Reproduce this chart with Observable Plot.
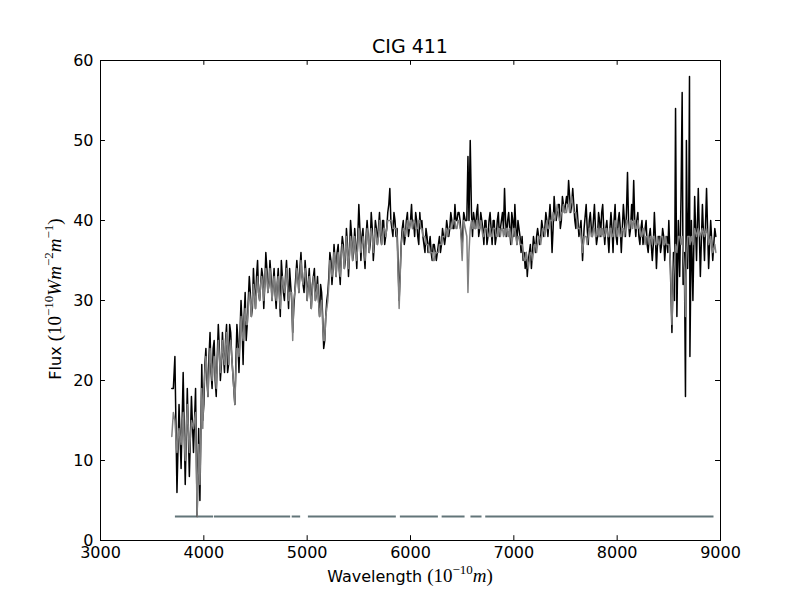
<!DOCTYPE html>
<html><head><meta charset="utf-8">
<script src="https://cdn.jsdelivr.net/npm/d3@7"></script>
<script src="https://cdn.jsdelivr.net/npm/@observablehq/plot@0.6"></script>
<style>body{margin:0;background:#fff} svg{display:block}</style>
</head><body><div id="chart"></div>
<script>
// ---- data ----
const wavelength = [
 3690,3705,3720,3740,3760,3780,3800,3820,3840,3860,3880,3900,3920,3935,3950,3962,3980,
 4000,4020,4040,4060,4080,4100,4120,4140,4160,4180,4200,4220,4240,4260,4280,
 4300,4320,4340,4360,4380,4400,4420,4440,4460,4480,4500,4520,4540,4560,4580,
 4600,4620,4640,4660,4680,4700,4720,4740,4760,4780,4800,4820,4840,4860,4880,
 4900,4920,4940,4960,4980,5000,5020,5040,5060,5080,5100,5120,5140,5160,5180,
 5200,5220,5240,5260,5280,5300,5320,5340,5360,5380,5400,5420,5440,5460,5480,
 5500,5520,5540,5560,5580,5600,5620,5640,5660,5680,5700,5720,5740,5760,5780,
 5800,5820,5840,5860,5890,5910,5930,5950,5970,5990,6010,6030,6050,6070,6090,
 6110,6130,6150,6170,6190,6210,6230,6250,6270,6290,6310,6330,6350,6370,6390,
 6410,6430,6450,6470,6485,6500,6515,6530,6545,6556,6566,6578,6590,6610,6630,
 6650,6670,6690,6710,6730,6750,6770,6790,6810,6830,6850,6870,6890,6910,6930,
 6950,6970,6990,7010,7030,7050,7070,7090,7110,7130,7150,7170,7190,7210,7230,
 7250,7270,7290,7310,7330,7350,7370,7390,7410,7430,7450,7470,7490,7510,7530,
 7550,7570,7590,7610,7630,7650,7665,7680,7700,7720,7740,7760,7780,7800,7820,
 7840,7860,7880,7900,7920,7940,7960,7980,8000,8020,8040,8060,8080,8100,8120,
 8140,8160,8180,8200,8220,8240,8260,8280,8300,8320,8340,8360,8380,8400,8420,
 8440,8460,8480,8500,8515,8530,8545,8555,8565,8578,8592,8605,8618,8629,8638,
 8650,8661,8670,8682,8693,8700,8704,8718,8733,8750,8768,8785,8805,8825,8845,
 8865,8885,8905,8925,8945,8955
];
const observedFlux = [
 19,19,23,6,17,9,21,7,19,8,18,11,19,3,14,5,22,
 17,24,18,26,19,25,18,27,20,26,21,27,22,26,21,
 17,27,21,30,22,31,27,33,28,34,29,35,30,34,29,
 36,31,35,30,34,29,34,28,33,30,35,29,32,26,31,
 35,31,36,32,35,30,34,29,33,30,33,28,31,24,28,
 31,36,32,37,33,37,32,38,34,39,33,40,35,39,34,
 42,35,39,34,40,36,41,35,40,37,41,37,40,38,41,
 44,39,41,38,30,37,40,38,41,39,42,40,41,38,41,
 40,37,39,36,38,35,37,35,37,36,39,37,40,38,41,
 39,42,40,41,39,37,41,40,40,48,40,50,41,41,39,
 42,39,40,37,40,38,41,37,40,38,41,39,41,44,38,
 41,37,40,42,37,39,36,35,34,33,36,34,38,36,39,
 37,40,38,41,38,42,36,43,40,42,39,43,41,43,45,
 41,44,40,42,38,40,35,39,42,37,41,38,42,37,41,
 38,42,37,40,36,41,36,42,37,41,36,42,38,46,38,
 42,45,38,41,37,40,38,40,36,39,35,41,34,38,36,
 39,35,38,40,34,26,36,30,54,28,40,33,43,56,32,
 36,18,50,34,42,58,23,40,30,43,35,44,33,42,35,
 44,34,40,35,39,38
];
const modelFlux = [
 13,16,15,11,14,12,16,10,17,11,15,14,16,3,12,7,19,
 19,23,18,24,20,23,19,25,21,25,22,26,22,25,21,
 17,24,23,28,25,29,27,31,28,32,29,33,30,33,30,
 34,31,34,30,33,30,33,29,33,31,34,30,31,25,31,
 34,31,35,32,34,30,33,29,33,30,32,28,30,25,28,
 30,35,33,36,33,36,33,37,34,38,34,38,35,38,35,
 39,36,38,35,39,36,39,36,39,37,40,37,39,38,40,
 40,40,39,39,29,37,39,38,40,39,40,40,39,39,40,
 39,38,37,37,36,36,35,36,36,37,38,38,39,39,39,
 40,40,39,40,39,35,40,39,38,31,36,39,40,40,39,
 40,39,39,38,39,38,39,38,39,38,39,38,39,39,39,
 38,38,38,39,37,38,37,36,35,35,35,36,36,37,37,
 38,38,39,39,39,40,40,40,41,41,40,41,41,41,42,
 42,42,41,40,39,38,36,38,38,38,39,38,39,38,38,
 39,39,38,39,38,39,38,40,38,39,38,39,39,40,39,
 40,40,39,40,39,38,39,38,38,38,37,38,37,37,38,
 38,37,37,37,35,27,33,35,37,36,38,38,37,38,36,
 34,28,35,38,38,38,37,38,37,39,38,39,38,39,38,
 39,37,38,36,37,36
];
// in-between samples
const wavelengthExtra = [
 3990,4010,4030,4050,4070,4090,4110,4130,4150,4170,
 4190,4210,4230,4250,4270,4290,4310,4330,4350,4370,
 4390,4410,4430,4450,4470,4490,4510,4530,4550,4570,
 4590,4610,4630,4650,4670,4690,4710,4730,4750,4770,
 4790,4810,4830,4850,4870,4890,4910,4930,4950,4970,
 4990,5010,5030,5050,5070,5090,5110,5130,5150,5170,
 5190,5210,5230,5250,5270,5290,5310,5330,5350,5370,
 5390,5410,5430,5450,5470,5490,5510,5530,5550,5570,
 5590,5610,5630,5650,5670,5690,5710,5730,5750,5770,
 5790,5810,5830,5850,5870,
 5920,5940,5960,5980,6000,6020,6040,6060,6080,6100,
 6120,6140,6160,6180,6200,6220,6240,6260,6280,6300,
 6320,6340,6360,6380,6400,6420,6440,6460,6480,
 6600,6620,6640,6660,6680,6700,6720,6740,6760,6780,
 6800,6820,6840,6860,6880,6900,6920,6940,6960,6980,
 7000,7020,7040,7060,7080,7100,7120,7140,7160,7180,
 7200,7220,7240,7260,7280,7300,7320,7340,7360,7380,
 7400,7420,7440,7460,7480,7500,7520,7540,7560,7580,
 7600,7620,7640,
 7710,7730,7750,7770,7790,7810,7830,7850,7870,7890,
 7910,7930,7950,7970,7990,8010,8030,8050,8070,8090,
 8110,8130,8150,8170,8190,8210,8230,8250,8270,8290,
 8310,8330,8350,8370,8390,8410,8430,8450,8470,8490
];
const observedFluxExtra = [
 15,22,20,23,21,24,20,23,24,22,
 23,25,21,27,23,19,22,25,26,27,
 28,25,30,31,29,31,33,31,32,33,
 32,34,32,33,32,31,32,31,35,31,
 33,32,34,30,29,33,33,34,33,31,
 33,32,31,32,34,31,30,32,28,25,
 30,33,35,34,35,36,34,36,37,35,
 37,36,38,36,37,38,39,38,36,38,
 38,37,39,37,39,39,38,40,37,39,
 42,40,38,40,39,
 39,37,40,38,40,39,38,40,37,39,
 38,36,38,37,36,37,36,36,38,37,
 38,38,39,39,40,39,40,41,40,
 38,40,41,38,41,39,40,37,40,39,
 40,37,40,38,40,39,40,40,39,41,
 38,39,40,38,38,36,36,35,37,36,
 37,38,38,38,39,39,40,40,40,39,
 41,41,42,40,42,42,42,43,42,42,
 39,40,39,
 39,40,39,40,39,38,40,41,39,39,
 38,39,39,40,38,40,39,39,40,41,
 40,39,40,40,40,38,39,37,39,37,
 38,37,37,38,37,38,37,38,37,36
];
const modelFluxExtra = [
 14,21,21,21,22,22,21,22,23,23,
 23,24,24,24,23,19,21,24,25,26,
 27,27,29,30,30,31,31,31,32,32,
 32,33,32,32,32,31,32,31,31,32,
 32,32,31,31,30,32,33,33,33,33,
 32,32,31,31,32,31,30,29,27,25,
 29,32,34,34,35,35,34,35,36,36,
 36,36,37,37,36,37,38,37,37,37,
 38,38,38,38,38,38,39,38,39,39,
 40,40,39,39,38,
 38,39,39,39,40,39,40,39,40,39,
 38,38,37,36,36,35,36,36,37,37,
 38,39,38,39,39,40,39,40,39,
 39,39,40,39,40,38,39,39,38,38,
 39,39,38,39,39,38,38,39,39,37,
 39,38,38,37,37,35,36,34,36,35,
 37,36,38,37,39,38,40,39,40,41,
 40,42,40,41,42,41,42,41,43,41,
 41,39,39,
 37,39,38,39,38,39,38,38,38,39,
 38,39,38,39,39,39,38,39,38,40,
 39,40,39,40,39,39,38,39,37,38,
 37,38,38,37,38,37,38,37,38,37
];
const maskStart = [3725, 4102, 4855, 5012, 5902, 6306, 6585, 6728];
const maskEnd   = [4094, 4840, 4937, 5863, 6270, 6528, 6692, 8937];
const maskLevel = 3;
const xTicks = [3000, 4000, 5000, 6000, 7000, 8000, 9000];
const yTicks = [0, 10, 20, 30, 40, 50, 60];
const titleText = "CIG 411";

// ---- tables built from the arrays ----
const observed = d3.sort(
  wavelength.map((w, i) => ({w, f: observedFlux[i]}))
    .concat(wavelengthExtra.map((w, i) => ({w, f: observedFluxExtra[i]}))),
  d => d.w);
const model = d3.sort(
  wavelength.map((w, i) => ({w, f: modelFlux[i]}))
    .concat(wavelengthExtra.map((w, i) => ({w, f: modelFluxExtra[i]}))),
  d => d.w);
const mask = maskStart.map((s, i) => ({s, e: maskEnd[i], level: maskLevel}));

const chart = Plot.plot({
  width: 800, height: 600,
  marginLeft: 100, marginRight: 80, marginTop: 60, marginBottom: 60,
  style: {fontFamily: "DejaVu Sans", background: "white", color: "black"},
  x: {domain: [3000, 9000]},
  y: {domain: [0, 60]},
  marks: [
    Plot.ruleY(mask, {x1: "s", x2: "e", y: "level", stroke: "#627579", strokeWidth: 2}),
    Plot.line(observed, {x: "w", y: "f", stroke: "black", strokeWidth: 1.5}),
    Plot.line(model, {x: "w", y: "f", stroke: "#808080", strokeWidth: 1.5}),
    Plot.ruleX(xTicks, {x: d => d, y1: 0, y2: 0.6, stroke: "black"}),
    Plot.ruleX(xTicks, {x: d => d, y1: 60, y2: 59.4, stroke: "black"}),
    Plot.ruleY(yTicks, {y: d => d, x1: 3000, x2: 3048, stroke: "black"}),
    Plot.ruleY(yTicks, {y: d => d, x1: 9000, x2: 8952, stroke: "black"}),
    Plot.frame({stroke: "black", strokeWidth: 1}),
    Plot.axisX({ticks: xTicks, tickSize: 0, tickPadding: 6, fontSize: 16, label: null, tickFormat: d => String(d)}),
    Plot.axisY({ticks: yTicks, tickSize: 0, tickPadding: 7, fontSize: 16, label: null, tickFormat: d => String(d)})
  ]
});
document.getElementById("chart").appendChild(chart);

const svg = d3.select(chart);
svg.append("text").attr("x", 410).attr("y", 53).attr("text-anchor", "middle")
  .attr("font-family", "DejaVu Sans").attr("font-size", 19).attr("fill", "black").text(titleText);

function mathLabel(t, parts) {
  parts.forEach(p => {
    const ts = t.append("tspan").text(p.t)
      .attr("font-family", p.serif ? "Liberation Serif" : "DejaVu Sans")
      .attr("font-size", p.sup ? 13 : (p.serif ? 19 : 16));
    if (p.italic) ts.attr("font-style", "italic");
    if (p.dy) ts.attr("dy", p.dy);
  });
}
const xl = svg.append("text").attr("x", 410).attr("y", 582).attr("text-anchor", "middle").attr("fill", "black");
mathLabel(xl, [
  {t: "Wavelength "},
  {t: "(10", serif: true},
  {t: "\u221210", serif: true, sup: true, dy: -8},
  {t: "m", serif: true, italic: true, dy: 8},
  {t: ")", serif: true}
]);
const yl = svg.append("text").attr("transform", "translate(61,299) rotate(-90)").attr("text-anchor", "middle").attr("fill", "black");
mathLabel(yl, [
  {t: "Flux "},
  {t: "(10", serif: true},
  {t: "\u221210", serif: true, sup: true, dy: -8},
  {t: "Wm", serif: true, italic: true, dy: 8},
  {t: "\u22122", serif: true, sup: true, dy: -8},
  {t: "m", serif: true, italic: true, dy: 8},
  {t: "\u22121", serif: true, sup: true, dy: -8},
  {t: ")", serif: true, dy: 8}
]);
</script>
</body></html>
